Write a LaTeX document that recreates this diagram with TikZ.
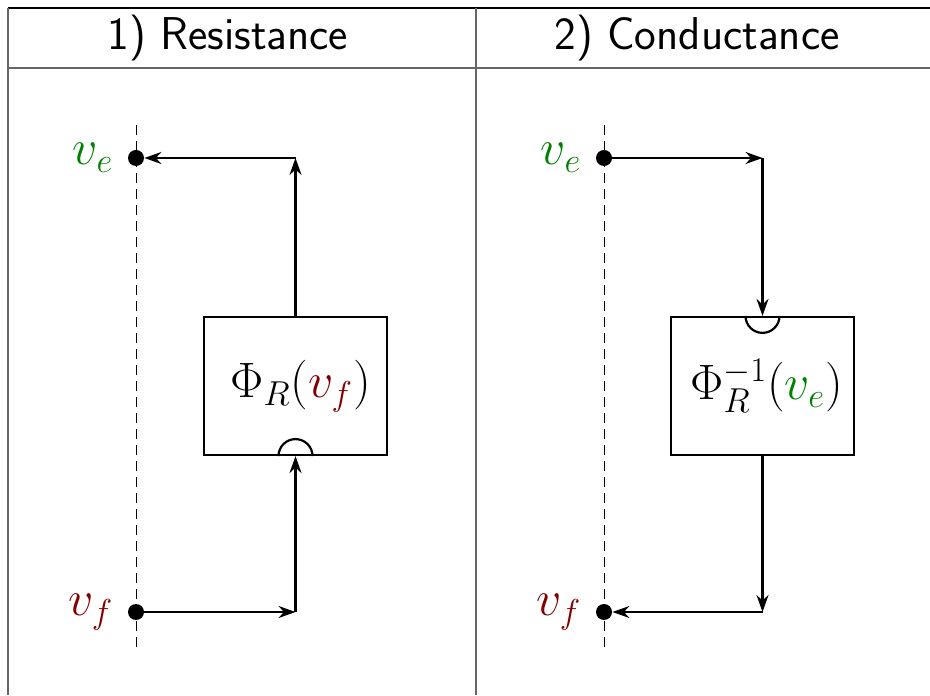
\documentclass[tikz,border=0pt]{standalone}
\usepackage{xcolor}
\usepackage{tikz}
\usetikzlibrary{positioning, arrows.meta, calc}
\definecolor{effortGreen}{HTML}{008000}
\definecolor{flowRed}{HTML}{800000}
\definecolor{gridGray}{HTML}{666666}

\begin{document}
\begin{tikzpicture}[x=50pt, y=50pt,
    port/.style={circle, fill=black, inner sep=0pt, minimum size=8pt},
    mapbox/.style={draw, line width=1.1pt, minimum width=91.5pt, minimum height=69pt,
      inner sep=0pt, font=\fontsize{25}{30}\selectfont},
    conn/.style={-{Stealth[length=8.5pt, width=6pt]}, line width=1.1pt},
    portlabel/.style={font=\fontsize{23}{28}\selectfont, inner sep=0pt},
    header/.style={font=\sffamily\fontsize{23}{28}\selectfont}]
    \useasboundingbox (0,0) rectangle (9.30,6.95);
    % Table frame
    \draw[line width=0.6pt] (0.08,6.87) -- (9.30,6.87);
    \draw[gridGray, line width=0.6pt] (0.08,6.27) -- (9.30,6.27);
    \foreach \xcol in {0.08, 4.76} {
      \draw[gridGray, line width=0.6pt] (\xcol,0) -- (\xcol,6.87);
    }
    \node[header] (headR) at (2.28,6.57) {1) Resistance};
    \node[header] (headG) at (6.97,6.57) {2) Conductance};
    % Dashed port axes
    \foreach \xport in {1.36, 6.04} {
      \draw[dash pattern=on 5pt off 3pt, line width=0.5pt] (\xport,5.70) -- (\xport,0.47);
    }

    % 1) Resistance: flow in, effort out
    \node[port] (veR) at (1.36,5.37) {};
    \node[port] (vfR) at (1.36,0.83) {};
    \node[portlabel, color=effortGreen, left=7pt of veR] {$v_e$};
    \node[portlabel, color=flowRed, left=7pt of vfR] {$v_f$};
    \node[mapbox] (mapR) at (2.955,3.09) {};
    \node[font=\fontsize{25}{30}\selectfont, xshift=2.5pt] (txtR) at (mapR) {$\Phi_R(\textcolor{flowRed}{v_f})$};
    \coordinate (cornerRB) at (vfR -| mapR);
    \coordinate (cornerRT) at (veR -| mapR);
    \draw[conn] (vfR) -- (cornerRB);
    \draw[conn] (cornerRB) -- (mapR.south);
    \draw[line width=1.1pt] ($(mapR.south)+(-8.5pt,0)$) arc (180:0:8.5pt);
    \draw[conn] (mapR.north) -- (cornerRT);
    \draw[conn] (cornerRT) -- (veR);

    % 2) Conductance: effort in, flow out
    \node[port] (veG) at (6.04,5.37) {};
    \node[port] (vfG) at (6.04,0.83) {};
    \node[portlabel, color=effortGreen, left=7pt of veG] {$v_e$};
    \node[portlabel, color=flowRed, left=7pt of vfG] {$v_f$};
    \node[mapbox] (mapG) at (7.625,3.09) {};
    \node[font=\fontsize{25}{30}\selectfont, xshift=2pt] (txtG) at (mapG) {$\Phi_R^{-1}(\textcolor{effortGreen}{v_e})$};
    \coordinate (cornerGT) at (veG -| mapG);
    \coordinate (cornerGB) at (vfG -| mapG);
    \draw[conn] (veG) -- (cornerGT);
    \draw[conn] (cornerGT) -- (mapG.north);
    \draw[line width=1.1pt] ($(mapG.north)+(-8.5pt,0)$) arc (180:360:8.5pt);
    \draw[conn] (mapG.south) -- (cornerGB);
    \draw[conn] (cornerGB) -- (vfG);
  \end{tikzpicture}
\end{document}
